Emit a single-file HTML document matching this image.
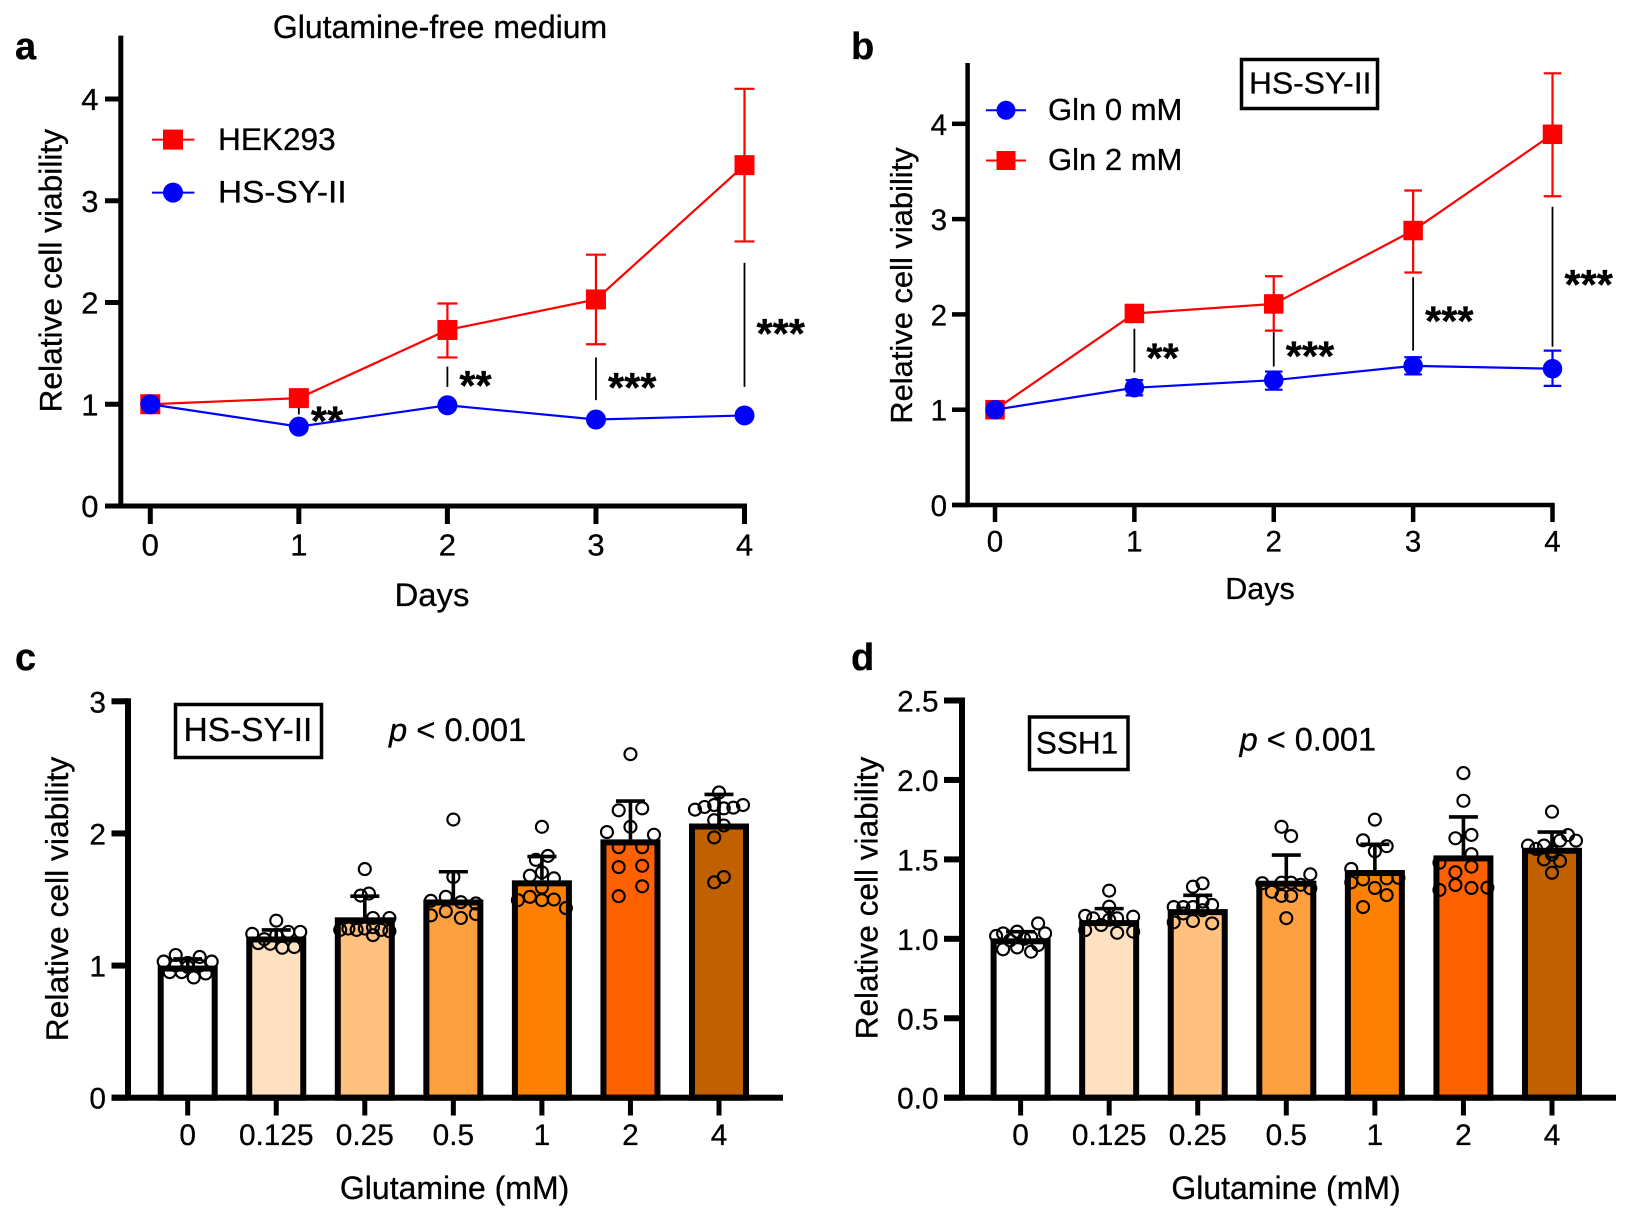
<!DOCTYPE html>
<html lang="en">
<head>
<meta charset="utf-8">
<title>Cell viability under glutamine conditions</title>
<style>
html,body{margin:0;padding:0;background:#fff;}
svg{display:block;font-family:"Liberation Sans",Arial,sans-serif;fill:#000;}
text{stroke:#000;stroke-width:0.3px;}
</style>
</head>
<body>
<svg id="figure" xmlns="http://www.w3.org/2000/svg" width="1627" height="1212" viewBox="0 0 1627 1212">
  <rect x="0" y="0" width="1627" height="1212" fill="#fff"/>

  <g id="panel-a">
    <text x="15" y="59" font-size="38" font-weight="bold">a</text>
    <text x="440" y="38" font-size="32" text-anchor="middle">Glutamine-free medium</text>
    <text transform="translate(61.5 270.7) rotate(-90)" font-size="31.7" text-anchor="middle">Relative cell viability</text>
    <text x="432" y="606" font-size="32.8" text-anchor="middle">Days</text>
    <g>
      <line x1="152" x2="194.4" y1="139.6" y2="139.6" stroke="#f00" stroke-width="2"/>
      <rect x="163" y="129.6" width="20" height="20" fill="#f00"/>
      <text x="218" y="150" font-size="31.6">HEK293</text>
      <line x1="152" x2="194.4" y1="192.6" y2="192.6" stroke="#00f" stroke-width="2"/>
      <circle cx="173" cy="192.6" r="10" fill="#00f"/>
      <text x="218" y="202.5" font-size="31.6" textLength="128.6" lengthAdjust="spacingAndGlyphs">HS-SY-II</text>
    </g>
  </g>

  <g id="panel-b">
    <text x="851" y="59" font-size="38" font-weight="bold">b</text>
    <text transform="translate(912 285.5) rotate(-90)" font-size="30.9" text-anchor="middle">Relative cell viability</text>
    <text x="1260" y="599" font-size="30.5" text-anchor="middle">Days</text>
    <rect x="1241.5" y="59.5" width="136" height="49" fill="#fff" stroke="#000" stroke-width="3.5"/>
    <text x="1249" y="93.7" font-size="31" textLength="122.4" lengthAdjust="spacingAndGlyphs">HS-SY-II</text>
    <g>
      <line x1="986" x2="1026" y1="110.3" y2="110.3" stroke="#00f" stroke-width="2"/>
      <circle cx="1006" cy="110.3" r="9.5" fill="#00f"/>
      <text x="1048" y="120" font-size="31">Gln 0 mM</text>
      <line x1="986" x2="1026" y1="160.5" y2="160.5" stroke="#f00" stroke-width="2"/>
      <rect x="996.5" y="151" width="19" height="19" fill="#f00"/>
      <text x="1048" y="170" font-size="31">Gln 2 mM</text>
    </g>
  </g>

  <g id="panel-c">
    <text x="15" y="670" font-size="38" font-weight="bold">c</text>
    <text transform="translate(68 899) rotate(-90)" font-size="31.8" text-anchor="middle">Relative cell viability</text>
    <text x="454.6" y="1199" font-size="32" text-anchor="middle">Glutamine (mM)</text>
    <rect x="175.5" y="704.5" width="146" height="53" fill="#fff" stroke="#000" stroke-width="3.5"/>
    <text x="183.6" y="741" font-size="33" textLength="128.7" lengthAdjust="spacingAndGlyphs">HS-SY-II</text>
    <text x="389" y="741" font-size="32.7"><tspan font-style="italic">p</tspan> &lt; 0.001</text>
  </g>

  <g id="panel-d">
    <text x="851" y="670" font-size="38" font-weight="bold">d</text>
    <text transform="translate(877.4 898) rotate(-90)" font-size="31.6" text-anchor="middle">Relative cell viability</text>
    <text x="1286" y="1199" font-size="32" text-anchor="middle">Glutamine (mM)</text>
    <rect x="1029.5" y="717" width="98.5" height="52.5" fill="#fff" stroke="#000" stroke-width="3.5"/>
    <text x="1077" y="753.6" font-size="31.5" text-anchor="middle">SSH1</text>
    <text x="1239.6" y="750.4" font-size="32.5"><tspan font-style="italic">p</tspan> &lt; 0.001</text>
  </g>
</svg>

<script>
/* ---------- Panel a data ---------- */
const daysA = [0, 1, 2, 3, 4];
const yTicksA = [0, 1, 2, 3, 4];
const hekMean = [1, 1.06, 1.73, 2.03, 3.35];
const hekHigh = [1, 1.09, 1.99, 2.47, 4.10];
const hekLow = [1, 1.03, 1.46, 1.59, 2.60];
const hsMeanA = [1, 0.78, 0.99, 0.85, 0.89];
const hsHighA = [1, 0.80, 1.01, 0.87, 0.91];
const hsLowA = [1, 0.76, 0.97, 0.83, 0.87];
const sigDaysA = [1, 2, 3, 4];
const sigTopA = [0.97, 1.37, 1.46, 2.39];
const sigBottomA = [0.90, 1.17, 1.04, 1.17];
const sigStarLevelA = [0.89, 1.24, 1.22, 1.75];
const sigLabelsA = ['**', '**', '***', '***'];

/* ---------- Panel b data ---------- */
const daysB = [0, 1, 2, 3, 4];
const yTicksB = [0, 1, 2, 3, 4];
const gln2Mean = [1, 2.01, 2.11, 2.88, 3.89];
const gln2High = [1, 2.03, 2.40, 3.30, 4.53];
const gln2Low = [1, 1.99, 1.83, 2.44, 3.24];
const gln0Mean = [1, 1.23, 1.31, 1.46, 1.43];
const gln0High = [1, 1.31, 1.40, 1.55, 1.62];
const gln0Low = [1, 1.15, 1.21, 1.37, 1.25];
const sigDaysB = [1, 2, 3, 4];
const sigTopB = [1.85, 1.815, 2.39, 3.13];
const sigBottomB = [1.39, 1.453, 1.62, 1.66];
const sigStarLevelB = [1.60, 1.62, 1.99, 2.37];
const sigLabelsB = ['**', '***', '***', '***'];

/* ---------- Panel c data ---------- */
const categoriesC = ['0', '0.125', '0.25', '0.5', '1', '2', '4'];
const yTicksC = ['0', '1', '2', '3'];
const meansC = [1.0, 1.22, 1.365, 1.5, 1.645, 1.955, 2.075];
const upperC = [1.05, 1.27, 1.525, 1.71, 1.825, 2.245, 2.295];
/* replicate readings, grouped in bins; null = empty slot in the bin */
const pointsC = [
  [[1.03, 1.08, 1.02, 1.065, 1.03], [1.0, 0.99, 1.0], [0.95, 0.95, 0.91, 0.94]],
  [[1.34], [1.24, 1.2, 1.23, 1.255, 1.255], [1.17, 1.165, 1.135, 1.14]],
  [[1.73], [1.53, 1.545], [null, null, null, null, 1.36, null, 1.36], [1.27, 1.28, 1.27, 1.28, 1.29, 1.27, 1.26], [null, null, null, null, 1.23, null, null]],
  [[2.105], [1.67], [1.49, 1.52, 1.48, 1.47], [1.38, 1.41, 1.36, 1.39]],
  [[2.05], [1.80, 1.83], [1.68, 1.705, 1.66], [1.59], [1.495, 1.52, 1.495, 1.50, 1.435]],
  [[2.60], [2.175, 2.19], [2.01, 2.05, 1.99], [1.895, 1.895], [1.745, 1.755], [1.525, 1.60]],
  [[2.31], [2.18, 2.20, 2.215, 2.19, 2.195, 2.215], [2.10, 2.06], [1.97, null], [1.63, 1.67]]
];

/* ---------- Panel d data ---------- */
const categoriesD = ['0', '0.125', '0.25', '0.5', '1', '2', '4'];
const yTicksD = ['0.0', '0.5', '1.0', '1.5', '2.0', '2.5'];
const meansD = [1.003, 1.118, 1.187, 1.366, 1.433, 1.525, 1.573];
const upperD = [1.045, 1.19, 1.274, 1.527, 1.595, 1.767, 1.672];
const pointsD = [
  [[null, null, null, null, null, null, 1.097, null], [1.018, 1.034, null, 1.045, null, 1.01, null, 1.034], [null, null, 0.99, null, 1.0, null, null, null], [null, 0.934, null, 0.946, null, 0.919, 0.961, null]],
  [[1.303], [1.202], [1.145, 1.129, null, 1.12, 1.129, null, 1.139], [1.055, null, 1.087, null, 1.038, null, 1.045]],
  [[null, null, 1.328, 1.349, null, null], [1.20, 1.20, 1.20, 1.234, 1.213, null], [null, 1.16, null, 1.18, null, null], [1.104, null, 1.112, null, 1.097, null]],
  [[null, null, 1.705, 1.647, null, null], [null, null, null, null, null, 1.406], [1.35, null, 1.353, 1.353, 1.34, 1.318], [null, 1.296, 1.27, 1.27, null, null], [1.13]],
  [[1.75], [1.62, 1.551, 1.583], [1.44, null, null, null, null], [1.355, 1.374, 1.32, 1.38, 1.384], [null, null, 1.275], [1.20, null, null]],
  [[2.043], [1.869], [1.633, 1.654], [1.479, 1.419, 1.533, null], [null, null, 1.454, null], [1.307, 1.339, 1.32, 1.322]],
  [[1.80], [1.587, 1.566, 1.587, 1.55, 1.618, 1.653, 1.618], [1.50, 1.53, 1.49], [1.416]]
];

/* ---------- Drawing ---------- */
const NS = 'http://www.w3.org/2000/svg';
const RED = '#ff0000';
const BLUE = '#0000ff';
const BAR_FILLS = ['#ffffff', '#ffe0c0', '#ffc080', '#ffa040', '#ff8000', '#ff6000', '#c06000'];

function mk(parent, tag, attrs, txt) {
  const el = document.createElementNS(NS, tag);
  for (const k in attrs) el.setAttribute(k, attrs[k]);
  if (txt !== undefined) el.textContent = txt;
  parent.appendChild(el);
  return el;
}

function linearScale(d0, d1, r0, r1) {
  return function (v) { return r0 + (v - d0) * (r1 - r0) / (d1 - d0); };
}

function drawLineSeries(root, xs, mean, hi, lo, sx, sy, color, shape, size, capW, name) {
  const g = mk(root, 'g', {});
  
  
  const pts = xs.map(function (d, i) { return sx(d) + ',' + sy(mean[i]); }).join(' ');
  const line = mk(g, 'polyline', { points: pts, fill: 'none', stroke: color, 'stroke-width': 2.2 });
  
  
  xs.forEach(function (d, i) {
    const x = sx(d);
    const err = mk(g, 'path', {
      d: 'M' + (x - capW / 2) + ' ' + sy(hi[i]) + 'H' + (x + capW / 2) + 'M' + x + ' ' + sy(hi[i]) + 'V' + sy(lo[i]) + 'M' + (x - capW / 2) + ' ' + sy(lo[i]) + 'H' + (x + capW / 2),
      fill: 'none', stroke: color, 'stroke-width': 2.2
    });
    
    
    let mark;
    if (shape === 'square') {
      mark = mk(g, 'rect', { x: x - size / 2, y: sy(mean[i]) - size / 2, width: size, height: size, fill: color });
    } else {
      mark = mk(g, 'circle', { cx: x, cy: sy(mean[i]), r: size / 2, fill: color });
    }
    
    
  });
}

function drawSig(root, days, top, bottom, level, labels, sx, sy) {
  days.forEach(function (d, i) {
    const x = sx(d);
    const line = mk(root, 'line', { x1: x, x2: x, y1: sy(top[i]), y2: sy(bottom[i]), stroke: '#000', 'stroke-width': 1.8 });
    
    
    const star = mk(root, 'text', { x: x + 12, y: sy(level[i]) + 20, 'font-size': 41.5, 'font-weight': 'bold' }, labels[i]);
    
    
  });
}

function drawLineAxes(root, o) {
  const th = o.thick;
  const yAxis = mk(root, 'rect', { x: o.axisX - th / 2, y: o.top, width: th, height: o.sy(0) - o.top + th / 2 });
  
  
  const xAxis = mk(root, 'rect', { x: o.tickLeft, y: o.sy(0) - th / 2, width: o.sx(o.xs[o.xs.length - 1]) + th / 2 - o.tickLeft, height: th });
  
  
  o.yTicks.forEach(function (t) {
    const y = o.sy(t);
    const tick = mk(root, 'rect', { x: o.tickLeft, y: y - th / 2, width: o.axisX - o.tickLeft, height: th });
    
    
    const lab = mk(root, 'text', { x: o.yLabelRight, y: y + 11, 'font-size': o.tickFont, 'text-anchor': 'end' }, String(t));
    
    
  });
  o.xs.forEach(function (d) {
    const x = o.sx(d);
    const tick = mk(root, 'rect', { x: x - th / 2, y: o.sy(0), width: th, height: o.tickBottom - o.sy(0) });
    
    
    const lab = mk(root, 'text', { x: x, y: o.xLabelBase, 'font-size': o.tickFont, 'text-anchor': 'middle' }, String(d));
    
    
  });
}

function drawBarChart(root, o) {
  const th = 6, barW = 60, border = 6;
  const base = o.sy(0);
  o.categories.forEach(function (c, i) {
    const cx = o.sx(i);
    const topY = o.sy(o.means[i]);
    const bar = mk(root, 'rect', {
      x: cx - barW / 2 + border / 2, y: topY + border / 2,
      width: barW - border, height: base - topY - border / 2,
      fill: BAR_FILLS[i], stroke: '#000', 'stroke-width': border
    });
    
    
    const stem = mk(root, 'line', { x1: cx, x2: cx, y1: topY, y2: o.sy(o.upper[i]), stroke: '#000', 'stroke-width': 3.6 });
    
    
    const cap = mk(root, 'line', { x1: cx - 14.5, x2: cx + 14.5, y1: o.sy(o.upper[i]), y2: o.sy(o.upper[i]), stroke: '#000', 'stroke-width': 3.6 });
    
    
    o.points[i].forEach(function (row) {
      row.forEach(function (v, k) {
        if (v === null) return;
        const dot = mk(root, 'circle', {
          cx: cx + (k - (row.length - 1) / 2) * o.gaps[i], cy: o.sy(v), r: 6,
          fill: 'none', stroke: '#000', 'stroke-width': 2.1
        });
        
        
      });
    });
    const tick = mk(root, 'rect', { x: cx - 2.5, y: base, width: 5, height: o.tickBottom - base });
    
    
    const lab = mk(root, 'text', { x: cx, y: 1145, 'font-size': 29.8, 'text-anchor': 'middle' }, c);
    
    
  });
  const xAxis = mk(root, 'rect', { x: o.tickLeft, y: base - th / 2, width: o.right - o.tickLeft, height: th });
  
  
  const yTop = o.sy(parseFloat(o.yTicks[o.yTicks.length - 1]));
  const yAxis = mk(root, 'rect', { x: o.axisX - th / 2, y: yTop - th / 2, width: th, height: base - yTop + th / 2 });
  
  
  o.yTicks.forEach(function (t) {
    const y = o.sy(parseFloat(t));
    const tick = mk(root, 'rect', { x: o.tickLeft, y: y - th / 2, width: o.axisX - o.tickLeft, height: th });
    
    
    const lab = mk(root, 'text', { x: o.yLabelRight, y: y + 11, 'font-size': 29.8, 'text-anchor': 'end' }, t);
    
    
  });
}

/* Panel a */
const pa = document.getElementById('panel-a');
const sxA = linearScale(0, 4, 150.3, 744.5);
const syA = linearScale(0, 4, 506, 99);
drawLineAxes(pa, { xs: daysA, yTicks: yTicksA, sx: sxA, sy: syA, axisX: 120.8, top: 35.6, tickLeft: 105, thick: 5, tickBottom: 524, yLabelRight: 98.5, xLabelBase: 555.5, tickFont: 31 });
drawSig(pa, sigDaysA, sigTopA, sigBottomA, sigStarLevelA, sigLabelsA, sxA, syA);
drawLineSeries(pa, daysA, hekMean, hekHigh, hekLow, sxA, syA, RED, 'square', 20, 20, 'hek293');
drawLineSeries(pa, daysA, hsMeanA, hsHighA, hsLowA, sxA, syA, BLUE, 'circle', 20, 17, 'hs-sy-ii');

/* Panel b */
const pb = document.getElementById('panel-b');
const sxB = linearScale(0, 4, 995, 1552.5);
const syB = linearScale(0, 4, 505, 123.8);
drawLineAxes(pb, { xs: daysB, yTicks: yTicksB, sx: sxB, sy: syB, axisX: 967.6, top: 63, tickLeft: 952, thick: 4.5, tickBottom: 522, yLabelRight: 947, xLabelBase: 551.6, tickFont: 29.5 });
drawSig(pb, sigDaysB, sigTopB, sigBottomB, sigStarLevelB, sigLabelsB, sxB, syB);
drawLineSeries(pb, daysB, gln2Mean, gln2High, gln2Low, sxB, syB, RED, 'square', 19.5, 17.6, 'gln-2-mm');
drawLineSeries(pb, daysB, gln0Mean, gln0High, gln0Low, sxB, syB, BLUE, 'circle', 19.5, 17.6, 'gln-0-mm');

/* Panel c */
const gapsC = [12, 12, 8.2, 15, 12, 23.5, 9.6];
drawBarChart(document.getElementById('panel-c'), {
  categories: categoriesC, means: meansC, upper: upperC, points: pointsC, gaps: gapsC, yTicks: yTicksC,
  sx: linearScale(0, 6, 187.7, 719), sy: linearScale(0, 3, 1097.7, 701.3),
  axisX: 128, tickLeft: 111.5, right: 783, tickBottom: 1115.5, yLabelRight: 106
});

/* Panel d */
const gapsD = [7, 8, 9.6, 9.6, 11.8, 16, 8];
drawBarChart(document.getElementById('panel-d'), {
  categories: categoriesD, means: meansD, upper: upperD, points: pointsD, gaps: gapsD, yTicks: yTicksD,
  sx: linearScale(0, 6, 1020.6, 1552), sy: linearScale(0, 2.5, 1097.7, 700.5),
  axisX: 962, tickLeft: 944, right: 1616, tickBottom: 1115.5, yLabelRight: 938.6
});
</script>
</body>
</html>
